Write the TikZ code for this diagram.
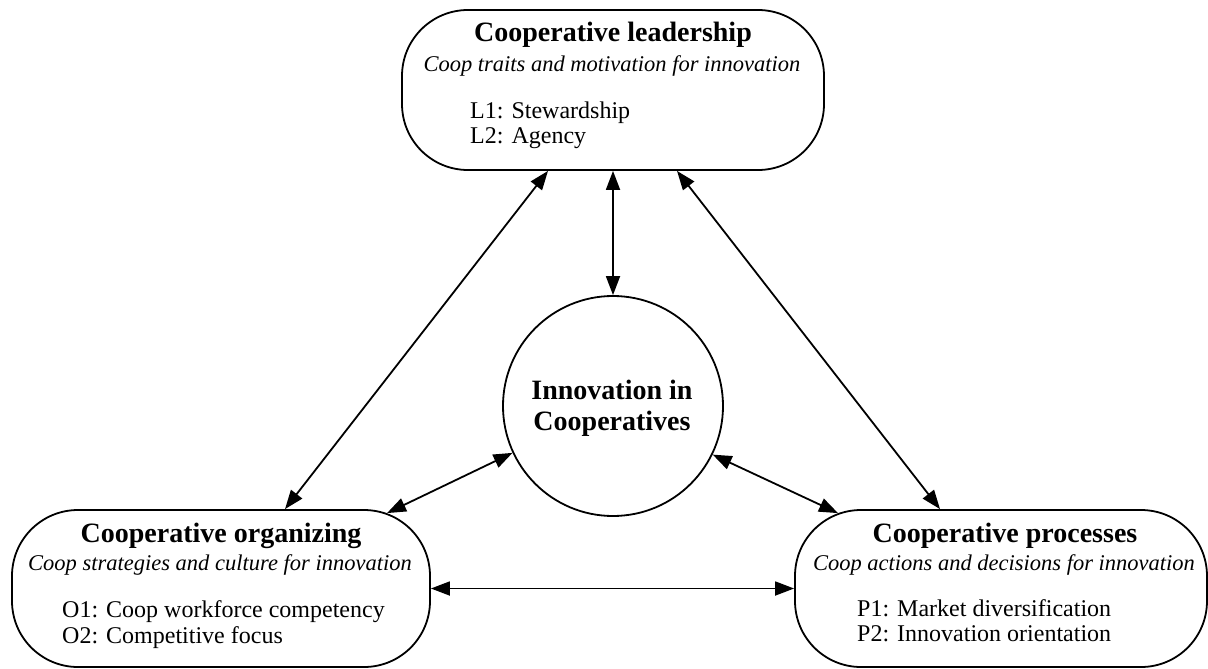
\documentclass[tikz,border=0pt]{standalone}
\usepackage{fontspec}
\setmainfont{Liberation Serif}
\usetikzlibrary{arrows.meta}
\begin{document}
\begin{tikzpicture}[x=1pt,y=-1pt,
    box/.style={draw=black, line width=1.8pt, rounded corners=66pt, inner sep=0pt},
    hub/.style={draw=black, circle, line width=1.8pt, minimum size=220pt, inner sep=0pt},
    head/.style={anchor=base, inner sep=0pt, font=\fontsize{28}{30}\selectfont\bfseries},
    sub/.style={anchor=base, inner sep=0pt, font=\fontsize{22.5}{25}\selectfont\itshape},
    item/.style={anchor=base west, inner sep=0pt, font=\fontsize{24}{26}\selectfont},
    link/.style={line width=1.8pt, {Triangle[length=19pt,width=14pt]}-{Triangle[length=19pt,width=14pt]}}]
    \useasboundingbox (0,0) rectangle (1208,669);
    \node [box, minimum width=422pt, minimum height=160pt] (lead) at (613,90) {};
    \node [box, minimum width=418pt, minimum height=157pt] (org) at (221,588.5) {};
    \node [box, minimum width=412pt, minimum height=157pt] (proc) at (1001,588.5) {};
    \node [hub] (inno) at (613,406) {};
    \node [head] (leadT) at (613,42) {Cooperative leadership};
    \node [sub] (leadS) at (612,72) {Coop traits and motivation for innovation};
    \node [item] (leadA) at (470,118) {L1: Stewardship};
    \node [item] (leadB) at (470,143) {L2: Agency};
    \node [head] (orgT) at (221,542) {Cooperative organizing};
    \node [sub] (orgS) at (220,570) {Coop strategies and culture for innovation};
    \node [item] (orgA) at (62,617) {O1: Coop workforce competency};
    \node [item] (orgB) at (62,643) {O2: Competitive focus};
    \node [head] (procT) at (1005,542) {Cooperative processes};
    \node [sub] (procS) at (1004,570) {Coop actions and decisions for innovation};
    \node [item] (procA) at (857,616) {P1: Market diversification};
    \node [item] (procB) at (857,641) {P2: Innovation orientation};
    \node [head] (innoA) at (612,399) {Innovation in};
    \node [head] (innoB) at (612,430) {Cooperatives};
    \draw [link] ([xshift=-65pt]lead.south) -- ([xshift=64pt]org.north);
    \draw [link] (lead.south) -- (inno.north);
    \draw [link] ([xshift=64pt]lead.south) -- ([xshift=-61pt]proc.north);
    \draw [link] (inno.205) -- ([xshift=166pt,yshift=-4pt]org.north);
    \draw [link] (inno.334) -- ([xshift=-163pt,yshift=-4pt]proc.north);
    \draw [link] (org.east) -- (proc.west);
\end{tikzpicture}
\end{document}
